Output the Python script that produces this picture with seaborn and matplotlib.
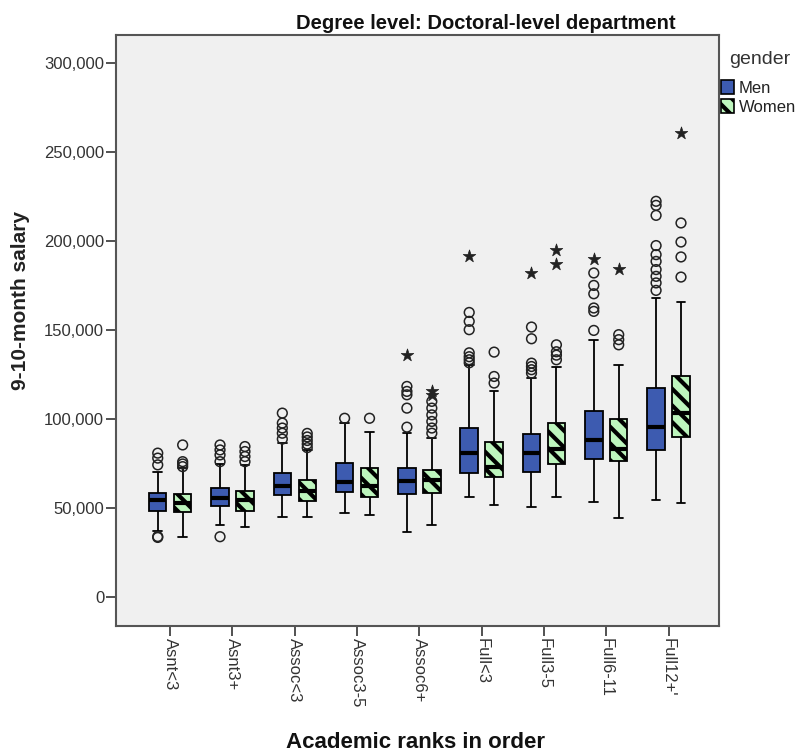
import numpy as np
import pandas as pd
import matplotlib
matplotlib.use("Agg")
import matplotlib.pyplot as plt
from matplotlib.patches import Patch
from matplotlib.colors import to_rgb
from matplotlib.ticker import FuncFormatter
import seaborn as sns

# Academic rank groups (x axis) and gender groups (hue)
ranks = ["Asnt<3", "Asnt3+", "Assoc<3", "Assoc3-5", "Assoc6+",
         "Full<3", "Full3-5", "Full6-11", "Full12+'"]
genders = ["Men", "Women"]

# Five-number summaries per rank: lower whisker, Q1, median, Q3, upper whisker
men_low = [37000, 40500, 44800, 47400, 36700, 56400, 50500, 53600, 54500]
men_q1 = [48600, 51200, 57400, 59200, 57800, 70000, 70500, 77800, 82700]
men_med = [54600, 55900, 62500, 64900, 65300, 80700, 80700, 88400, 95500]
men_q3 = [58400, 61200, 70000, 75500, 72700, 95000, 91600, 104700, 117800]
men_high = [70500, 75000, 86500, 97800, 92100, 130500, 123000, 144700, 168000]

women_low = [33900, 39600, 44800, 46100, 40500, 51800, 56500, 44600, 52700]
women_q1 = [48000, 48600, 54200, 56100, 58400, 67700, 74700, 76200, 90200]
women_med = [52700, 54600, 59800, 62500, 65800, 73300, 83300, 83100, 103400]
women_q3 = [58000, 59800, 65800, 72700, 71500, 87100, 98100, 100000, 124400]
women_high = [72400, 74000, 82700, 93000, 89300, 115600, 129600, 130200, 165900]

# Outliers (circles) and extreme values (stars) per rank
men_outliers = [
    [33500, 34000, 74300, 78100, 80900],
    [33900, 76100, 79900, 82700, 85500],
    [88800, 92100, 95000, 97800, 103400],
    [100500],
    [95500, 106200, 113700, 115600, 118400],
    [131700, 133400, 135100, 137300, 150300, 155000, 160000],
    [125900, 127800, 129600, 131500, 145200, 151800],
    [149900, 160600, 162500, 170500, 175200, 182200],
    [172400, 176600, 180300, 184100, 188700, 192500, 197600, 214600, 220200, 222500],
]
men_extremes = [[], [], [], [], [136200], [191500], [182200], [190100], []]

women_outliers = [
    [73300, 74800, 76100, 85500],
    [76100, 79000, 81800, 84600],
    [84000, 86000, 88000, 90000, 92000],
    [100500],
    [92100, 95000, 98700, 102400, 106200, 110000],
    [120300, 124000, 137700],
    [133400, 136000, 137900, 141800],
    [141800, 144700, 147500],
    [179900, 191200, 199600, 210300],
]
women_extremes = [[], [], [], [], [113700, 115600], [], [187400, 195300], [184600], [261000]]

BLUE = "#3d5bb0"
GREEN = "#bdf5bd"
palette = {"Men": BLUE, "Women": GREEN}

# Long-form tables
box_rows = []
summaries = {
    "Men": (men_low, men_q1, men_med, men_q3, men_high),
    "Women": (women_low, women_q1, women_med, women_q3, women_high),
}
for g, stats in summaries.items():
    for i, r in enumerate(ranks):
        for s in stats:
            box_rows.append({"rank": r, "gender": g, "salary": s[i]})
boxes = pd.DataFrame(box_rows)


def point_table(men_vals, women_vals):
    rows = []
    for g, vals in (("Men", men_vals), ("Women", women_vals)):
        for r, vs in zip(ranks, vals):
            for v in vs:
                rows.append({"rank": r, "gender": g, "salary": v})
    return pd.DataFrame(rows)


circles = point_table(men_outliers, women_outliers)
stars = point_table(men_extremes, women_extremes)

sns.set_theme(style="white")
plt.rcParams["font.family"] = ["Liberation Sans", "DejaVu Sans"]
plt.rcParams["hatch.linewidth"] = 3.0

fig = plt.figure(figsize=(7.98, 7.53), dpi=100)
ax = fig.add_axes([116 / 798, 1 - 626 / 753, (719 - 116) / 798, (626 - 35) / 753])
ax.set_facecolor("#f0f0f0")

sns.boxplot(
    data=boxes, x="rank", y="salary", hue="gender",
    order=ranks, hue_order=genders, palette=palette,
    width=0.8, gap=0.3, whis=np.inf, saturation=1,
    linecolor="black", linewidth=1.3,
    medianprops={"linewidth": 3, "color": "black"},
    legend=False, ax=ax,
)

# Diagonal stripes on the women's boxes
green_rgb = np.array(to_rgb(GREEN))
for p in ax.patches:
    if np.allclose(np.array(p.get_facecolor()[:3]), green_rgb, atol=0.02):
        p.set_hatch("\\\\")
        p.set_edgecolor("black")

n0 = len(ax.collections)
sns.stripplot(
    data=circles, x="rank", y="salary", hue="gender",
    order=ranks, hue_order=genders, palette=palette,
    dodge=True, jitter=False, marker="o", size=7,
    legend=False, ax=ax,
)
for c in ax.collections[n0:]:
    c.set_facecolor("none")
    c.set_edgecolor("#222222")
    c.set_linewidth(1.1)

n1 = len(ax.collections)
sns.stripplot(
    data=stars, x="rank", y="salary", hue="gender",
    order=ranks, hue_order=genders, palette=palette,
    dodge=True, jitter=False, marker="*", size=9.5,
    legend=False, ax=ax,
)
for c in ax.collections[n1:]:
    c.set_facecolor("#222222")
    c.set_edgecolor("#222222")
    c.set_linewidth(0.5)

ax.set_xlim(-0.87, 8.81)
ax.set_ylim(-16300, 316000)
ax.set_yticks(np.arange(0, 300001, 50000))
ax.yaxis.set_major_formatter(FuncFormatter(lambda v, _: f"{int(v):,}"))
ax.set_xlabel("")
ax.set_ylabel("")
ax.tick_params(axis="both", direction="out", length=7, width=1.2,
               color="#333333", labelcolor="#333333", labelsize=12,
               left=True, bottom=True, pad=1.5)
plt.setp(ax.get_xticklabels(), rotation=-90, ha="center", va="top")

for sp in ax.spines.values():
    sp.set_visible(True)
    sp.set_color("#555555")
    sp.set_linewidth(1.5)

fig.text(486 / 798, 1 - 29 / 753, "Degree level: Doctoral-level department",
         ha="center", va="baseline", fontsize=14.5, fontweight="bold", color="#111111")
fig.text(21 / 798, 1 - 301 / 753, "9-10-month salary", rotation=90,
         ha="center", va="center", fontsize=15, fontweight="bold", color="#222222")
fig.text(416 / 798, 1 - 748 / 753, "Academic ranks in order",
         ha="center", va="baseline", fontsize=16, fontweight="bold", color="#111111")

# Legend: title placed on its own, entries below it
fig.text(760 / 798, 1 - 59 / 753, "gender", ha="center", va="center",
         fontsize=14, color="#333333")
handles = [
    Patch(facecolor=BLUE, edgecolor="black", linewidth=1.2, label="Men"),
    Patch(facecolor=GREEN, edgecolor="black", linewidth=1.2, hatch="\\\\", label="Women"),
]
leg = fig.legend(handles=handles, loc="upper left",
                 bbox_to_anchor=(721 / 798, 1 - 80 / 753), frameon=False,
                 fontsize=12, handlelength=0.8, handleheight=0.9,
                 handletextpad=0.25, labelspacing=0.2,
                 borderpad=0, borderaxespad=0)
for t in leg.get_texts():
    t.set_color("#222222")

fig.savefig("out.png", dpi=100)
